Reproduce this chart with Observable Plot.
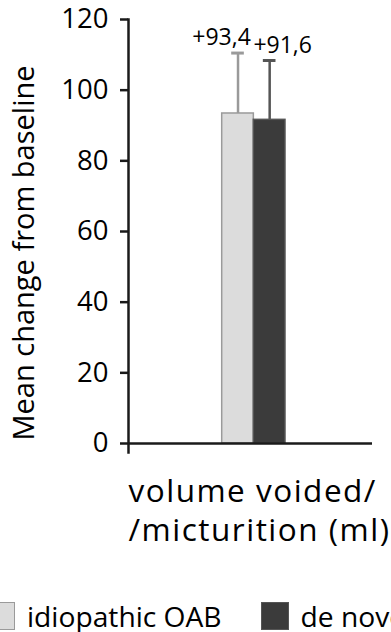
<!DOCTYPE html>
<html><head><meta charset="utf-8">
<script src="https://cdn.jsdelivr.net/npm/d3@7"></script>
<script src="https://cdn.jsdelivr.net/npm/@observablehq/plot@0.6"></script>
<style>
html,body{margin:0;padding:0;background:#fff;overflow:hidden;}
body{width:391px;height:632px;position:relative;font-family:"Open Sans",sans-serif;color:#000;}
#chart svg{display:block;}
#chart svg g[aria-label="fx-axis tick label"] text{letter-spacing:1.5px;}
#legend{display:flex;align-items:center;height:28px;margin-top:2px;margin-left:-13px;white-space:nowrap;font-size:28.2px;}
.item{display:flex;align-items:center;margin-right:39px;flex:none;}
.sw{width:28px;height:28px;box-sizing:border-box;flex:none;margin-right:12px;border:1.5px solid;}
</style></head><body>
<div id="chart"></div>
<div id="legend"></div>
<script>
// ---- data ----
const category = "volume voided/\n/micturition (ml)";
const groups = ["idiopathic OAB", "de novo OAB"];
const means = [93.4, 91.6];
const sds = [17.1, 16.8];
const yTicks = [0, 20, 40, 60, 80, 100, 120];
const yLabel = ["Mean change from baseline"];
const fills = ["#dcdcdc", "#3b3b3b"];
const outlines = ["#9a9a9a", "#555555"];

const data = groups.map((g, i) => ({
  category, group: g, mean: means[i], upper: means[i] + sds[i],
  label: "+" + means[i].toFixed(1).replace(".", ",")
}));

const labelDx = [-16.5, 13];
const axisColor = "#1a1a1a";

const perGroup = data.flatMap((d, i) => [
  Plot.barY([d], {fx: "category", x: "group", y: "mean", fill: "group", stroke: outlines[i], strokeWidth: 1.5}),
  Plot.ruleX([d], {fx: "category", x: "group", y1: "mean", y2: "upper", stroke: outlines[i], strokeWidth: 2.5}),
  Plot.tickY([d], {fx: "category", x: "group", y: "upper", stroke: outlines[i], strokeWidth: 3, insetLeft: 9.5, insetRight: 9.5}),
  Plot.text([d], {fx: "category", x: "group", y: "upper", text: "label", dy: -15, dx: labelDx[i], fontSize: 23, fill: "#000"})
]);

const plot = Plot.plot({
  width: 391,
  height: 600,
  marginLeft: 128,
  marginRight: 19,
  marginTop: 19,
  marginBottom: 157,
  style: {fontFamily: '"Open Sans", sans-serif', color: "#000", background: "#fff"},
  fx: {domain: [category], padding: 0, label: null},
  x: {domain: groups, paddingInner: 0, paddingOuter: 2.855, align: 0.5185, round: false, axis: null},
  y: {domain: [0, 120], label: null},
  color: {domain: groups, range: fills},
  marks: [
    ...perGroup,
    Plot.ruleY([0], {stroke: axisColor, strokeWidth: 2.5}),
    Plot.frame({anchor: "left", stroke: axisColor, strokeWidth: 2.5, insetBottom: -9}),
    Plot.axisY({ticks: yTicks, tickSize: 8, tickPadding: 12, fontSize: 27.5, stroke: axisColor, strokeWidth: 2.5, label: null}),
    Plot.axisFx({anchor: "bottom", tickSize: 0, tickPadding: 30.5, textAnchor: "start", dx: -122, fontSize: 31.5, lineHeight: 1.24, label: null}),
    Plot.text(yLabel, {text: d => d, frameAnchor: "left", textAnchor: "middle", rotate: -90, dx: -103.3, dy: 21.5, fontSize: 29, fill: "#000"})
  ]
});
document.getElementById("chart").appendChild(plot);

// legend
const legend = document.getElementById("legend");
groups.forEach((g, i) => {
  const item = document.createElement("div");
  item.className = "item";
  const sw = document.createElement("div");
  sw.className = "sw";
  sw.style.background = fills[i];
  sw.style.borderColor = outlines[i];
  const t = document.createElement("span");
  t.textContent = g;
  item.appendChild(sw);
  item.appendChild(t);
  legend.appendChild(item);
});
</script>
</body></html>
